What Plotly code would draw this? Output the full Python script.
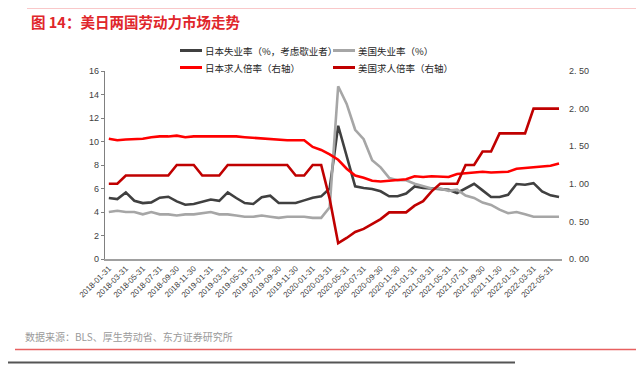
import pandas as pd
import plotly.graph_objects as go

# ---- data (monthly, 2018-01 .. 2022-06) ----
months = list(pd.date_range("2018-01-31", periods=54, freq="ME").strftime("%Y-%m-%d"))
tick_labels = months[::2]

jp_unemp = [5.19, 5.10, 5.67, 4.96, 4.76, 4.82, 5.22, 5.30, 4.90, 4.62, 4.68, 4.90, 5.06, 4.95,
            5.67, 5.19, 4.76, 4.68, 5.25, 5.39, 4.76, 4.76, 4.76, 4.99, 5.22, 5.33, 6.00,
            11.34, 8.73, 6.18, 6.04, 5.96, 5.76, 5.34, 5.34, 5.57, 6.18, 6.04, 6.01, 5.98, 5.90,
            5.62, 5.98, 6.40, 5.84, 5.28, 5.28, 5.47, 6.38, 6.32, 6.46, 5.76, 5.42, 5.28]

us_unemp = [4.0, 4.1, 4.0, 4.0, 3.8, 4.0, 3.8, 3.8, 3.7, 3.8, 3.8, 3.9,
            4.0, 3.8, 3.8, 3.7, 3.6, 3.6, 3.7, 3.6, 3.5, 3.6, 3.6, 3.6,
            3.5, 3.5, 4.4, 14.7, 13.2, 11.0, 10.2, 8.4, 7.8, 6.9, 6.7, 6.7,
            6.4, 6.2, 6.0, 6.0, 5.8, 5.9, 5.4, 5.2, 4.8, 4.6, 4.2, 3.9,
            4.0, 3.8, 3.6, 3.6, 3.6, 3.6]

jp_ratio = [1.60, 1.58, 1.59, 1.59, 1.60, 1.62, 1.63, 1.63, 1.64, 1.62, 1.63, 1.63,
            1.63, 1.63, 1.63, 1.63, 1.62, 1.61, 1.60, 1.59, 1.58, 1.58, 1.58, 1.58,
            1.49, 1.45, 1.39, 1.32, 1.20, 1.11, 1.08, 1.04, 1.03, 1.04, 1.06, 1.06,
            1.10, 1.09, 1.10, 1.09, 1.09, 1.13, 1.14, 1.14, 1.16, 1.15, 1.15, 1.16,
            1.20, 1.21, 1.22, 1.23, 1.24, 1.27]

us_ratio = [1.00, 1.00, 1.11, 1.11, 1.11, 1.11, 1.11, 1.11, 1.25, 1.25, 1.25, 1.11,
            1.11, 1.11, 1.25, 1.25, 1.25, 1.25, 1.25, 1.25, 1.25, 1.25, 1.11, 1.11,
            1.25, 1.25, 0.80, 0.21, 0.28, 0.36, 0.40, 0.47, 0.53, 0.62, 0.62, 0.62,
            0.71, 0.77, 0.90, 1.00, 1.00, 1.00, 1.25, 1.25, 1.43, 1.43, 1.67, 1.67,
            1.67, 1.67, 2.00, 2.00, 2.00, 2.00]

names = ["日本失业率（%，考虑歇业者）", "美国失业率（%）", "日本求人倍率（右轴）", "美国求人倍率（右轴）"]
colors = ["#404040", "#A6A6A6", "#FF0000", "#C00000"]

right_vals = [0, 0.5, 1.0, 1.5, 2.0, 2.5]
right_text = ["0. 00", "0. 50", "1. 00", "1. 50", "2. 00", "2. 50"]

# ---- layout geometry (pixels); page body has an 8px margin ----
OFF = 8
W, H = 644 - OFF, 369 - OFF
L, R, T, B = 97, 82, 63, 110
PW, PH = W - L - R, H - T - B

def px(x):
    return (x - OFF - L) / PW

def py(y):
    return (H - B - (y - OFF)) / PH

idx = list(range(len(months)))
fig = go.Figure()
series = [(jp_unemp, "y"), (us_unemp, "y"), (jp_ratio, "y2"), (us_ratio, "y2")]
for (vals, ax), nm, c in zip(series, names, colors):
    fig.add_trace(go.Scatter(x=idx, y=vals, name=nm, mode="lines", yaxis=ax,
                             line=dict(color=c, width=2.6), showlegend=False))

font_cn = "Noto Sans CJK SC, Liberation Sans, sans-serif"
shapes = []
annotations = []

# legend (manual, 2x2)
leg = [(180, 50.5, 0), (333, 50.5, 1), (180, 67.5, 2), (333, 67.5, 3)]
for x0, y0, k in leg:
    shapes.append(dict(type="line", xref="paper", yref="paper",
                       x0=px(x0), x1=px(x0 + 22), y0=py(y0), y1=py(y0),
                       line=dict(color=colors[k], width=3)))
    annotations.append(dict(xref="paper", yref="paper", x=px(x0 + 23), y=py(y0),
                            xanchor="left", yanchor="middle", showarrow=False,
                            text=names[k], font=dict(size=9.5, color="#262626", family=font_cn)))

# title and decorations
shapes.append(dict(type="line", xref="paper", yref="paper", x0=px(27), x1=px(644),
                   y0=py(7.5), y1=py(7.5), line=dict(color="#E8262B", width=1.5)))
annotations.append(dict(xref="paper", yref="paper", x=px(29), y=py(21), xanchor="left",
                        yanchor="middle", showarrow=False, text="<b>图 14：美日两国劳动力市场走势</b>",
                        font=dict(size=14.5, color="#E0262B", family=font_cn)))
annotations.append(dict(xref="paper", yref="paper", x=px(23), y=py(336), xanchor="left",
                        yanchor="middle", showarrow=False,
                        text="数据来源：BLS、厚生劳动省、东方证券研究所",
                        font=dict(size=10, color="#9A9A9A", family=font_cn)))
shapes.append(dict(type="rect", xref="paper", yref="paper", x0=px(15), x1=px(644),
                   y0=py(350.2), y1=py(348.8), fillcolor="#E86060", line=dict(width=0)))
shapes.append(dict(type="rect", xref="paper", yref="paper", x0=px(0), x1=px(515),
                   y0=py(363.5), y1=py(361.5), fillcolor="#555555", line=dict(width=0)))

fig.update_layout(
    width=W, height=H, margin=dict(l=L, r=R, t=T, b=B),
    paper_bgcolor="white", plot_bgcolor="white",
    font=dict(family="Liberation Sans, Noto Sans CJK SC, sans-serif", size=9, color="#404040"),
    shapes=shapes, annotations=annotations,
    xaxis=dict(range=[-0.45, 53.35], tickmode="array", tickvals=idx[::2], ticktext=tick_labels,
               tickangle=-45, tickfont=dict(size=8, color="#404040"), showgrid=False,
               zeroline=False, showline=True, linecolor="#A0A0A0", linewidth=1.5, ticks=""),
    yaxis=dict(range=[0, 16], dtick=2, showgrid=False, zeroline=False, showline=True,
               linecolor="#808080", linewidth=1.2, ticks="outside", ticklen=3,
               tickcolor="#808080", tickfont=dict(size=9, color="#404040")),
    yaxis2=dict(range=[0, 2.5], overlaying="y", side="right", tickmode="array",
                tickvals=right_vals, ticktext=right_text, showgrid=False, zeroline=False,
                showline=False, ticks="", ticklabelstandoff=6,
                tickfont=dict(size=9, color="#404040")),
)

fig.write_html("out.html")
